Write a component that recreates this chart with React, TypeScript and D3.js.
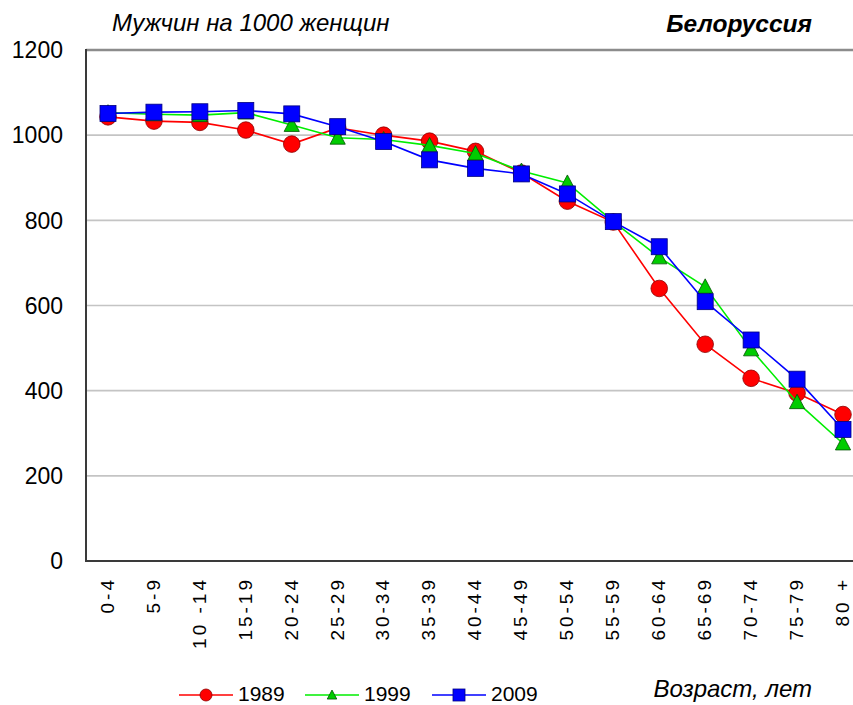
import React from "react";
import * as d3 from "d3";

const categories = ["0-4", "5-9", "10 -14", "15-19", "20-24", "25-29", "30-34", "35-39", "40-44", "45-49", "50-54", "55-59", "60-64", "65-69", "70-74", "75-79", "80 +"];
const values1989 = [1043, 1033, 1030, 1012, 979, 1017, 1000, 986, 962, 911, 845, 796, 640, 509, 429, 394, 344];
const values1999 = [1053, 1049, 1047, 1053, 1024, 994, 990, 976, 957, 916, 888, 797, 713, 644, 497, 373, 276];
const values2009 = [1051, 1054, 1055, 1058, 1050, 1020, 985, 942, 922, 909, 862, 797, 738, 609, 519, 427, 309];
const yTicks = [0, 200, 400, 600, 800, 1000, 1200];
const seriesNames = ["1989", "1999", "2009"];

const FONT = "Arial, 'Liberation Sans', sans-serif";

function Marker({ kind, x, y, s }: { kind: string; x: number; y: number; s: number }) {
  if (kind === "circle") {
    return <circle cx={x} cy={y} r={s} fill="#ff0000" stroke="#8b0000" strokeWidth={0.8} />;
  }
  if (kind === "triangle") {
    const h = s * 1.8;
    const w = s * 1.9;
    const pts = `${x},${y - h * 0.55} ${x + w / 2},${y + h * 0.45} ${x - w / 2},${y + h * 0.45}`;
    return <polygon points={pts} fill="#00cc00" stroke="#005000" strokeWidth={0.8} />;
  }
  return <rect x={x - s} y={y - s} width={2 * s} height={2 * s} fill="#0000ff" stroke="#000080" strokeWidth={0.8} />;
}

export default function App() {
  const W = 853;
  const H = 705;
  const x = d3.scalePoint<string>().domain(categories).range([108, 843]);
  const y = d3.scaleLinear().domain([0, 1200]).range([561, 50]);
  const step = x.step();
  const plotLeft = 86;
  const plotRight = (x(categories[categories.length - 1]) as number) + step / 2;

  const series = [
    { name: seriesNames[0], values: values1989, color: "#ff0000", kind: "circle", s: 8.3 },
    { name: seriesNames[1], values: values1999, color: "#00ee00", kind: "triangle", s: 8 },
    { name: seriesNames[2], values: values2009, color: "#0000ff", kind: "square", s: 8 },
  ];

  const line = d3
    .line<number>()
    .x((_, i) => x(categories[i]) as number)
    .y((d) => y(d));

  const legendX = [179, 305, 432];

  return (
    <svg width={W} height={H} style={{ position: "absolute", left: 0, top: 0, background: "#fff" }} fontFamily={FONT}>
      <rect x={0} y={0} width={W} height={H} fill="#fff" />
      {yTicks.filter((t) => t > 0).map((t) => (
        <line key={t} x1={plotLeft} x2={plotRight} y1={y(t)} y2={y(t)} stroke={t === 1200 ? "#8c8c8c" : "#c4c4c4"} strokeWidth={t === 1200 ? 2.5 : 1.6} />
      ))}
      <line x1={plotLeft} x2={plotLeft} y1={y(1200) - 1} y2={y(0) + 1} stroke="#3a3a3a" strokeWidth={2} />
      <line x1={plotLeft - 1} x2={plotRight} y1={y(0)} y2={y(0)} stroke="#3a3a3a" strokeWidth={2} />
      {yTicks.map((t) => (
        <text key={t} x={63} y={y(t)} dy="0.36em" textAnchor="end" fontSize={23} fill="#000">
          {t}
        </text>
      ))}
      {categories.map((c) => (
        <text
          key={c}
          transform={`translate(${(x(c) as number) - 1},577) rotate(-90)`}
          dy="0.36em"
          textAnchor="end"
          fontSize={19}
          letterSpacing={3}
          fill="#000"
        >
          {c}
        </text>
      ))}
      {series.map((s) => (
        <g key={s.name}>
          <path d={line(s.values) || ""} fill="none" stroke={s.color} strokeWidth={1.6} />
          {s.values.map((v, i) => (
            <Marker key={i} kind={s.kind} x={x(categories[i]) as number} y={y(v)} s={s.s} />
          ))}
        </g>
      ))}
      <text x={112} y={31} fontSize={24} fontStyle="italic" fill="#000">
        Мужчин на 1000 женщин
      </text>
      <text x={812} y={32} fontSize={24.5} fontStyle="italic" fontWeight="bold" textAnchor="end" fill="#000">
        Белоруссия
      </text>
      <text x={812} y={697} fontSize={24} fontStyle="italic" textAnchor="end" fill="#000">
        Возраст, лет
      </text>
      {series.map((s, i) => {
        const lx = legendX[i];
        const ly = 695;
        return (
          <g key={s.name}>
            <line x1={lx} x2={lx + 54} y1={ly} y2={ly} stroke={s.color} strokeWidth={1.6} />
            <Marker kind={s.kind} x={lx + 27} y={ly} s={s.kind === "triangle" ? 5 : 6} />
            <text x={lx + 59} y={701} fontSize={21} fill="#000">
              {s.name}
            </text>
          </g>
        );
      })}
    </svg>
  );
}
